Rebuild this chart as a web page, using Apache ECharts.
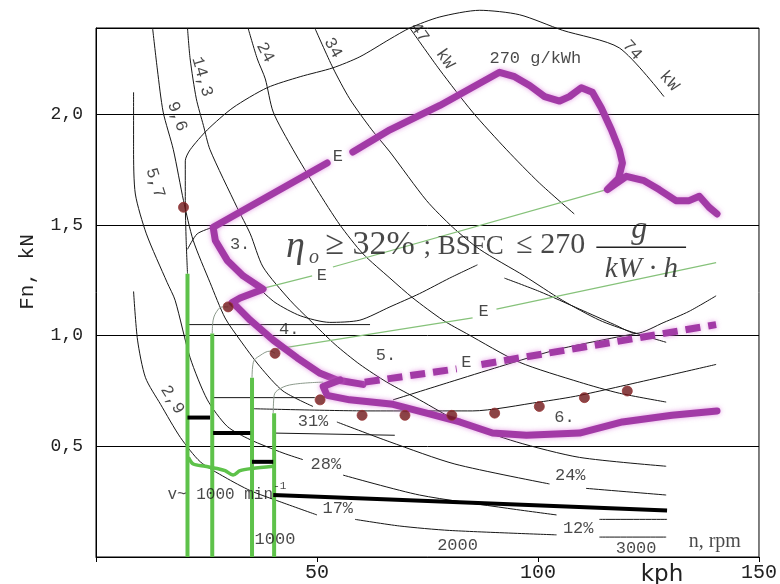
<!DOCTYPE html>
<html>
<head>
<meta charset="utf-8">
<title>Fn - kph</title>
<script src="https://cdn.jsdelivr.net/npm/echarts/dist/echarts.min.js"></script>
<style>
html, body { margin: 0; padding: 0; background: #fff; }
#chart { width: 780px; height: 584px; }
</style>
</head>
<body>
<div id="chart"></div>
<script>
// curves are [speed kph, force kN] pairs, split into segments where a label breaks them
const kw2_9 = [
  [[8.5,1.20],[9.4,0.98],[11.2,0.81],[14.6,0.69],[19.1,0.54],[23.6,0.43],[29.2,0.36],[34.9,0.30],[41.6,0.25],[50.0,0.19]],
  [[58.6,0.17],[68.7,0.14],[80.0,0.12],[104.2,0.10]],
  [[113.9,0.09],[129.0,0.09]]
];
const kw5_7 = [
  [[8.5,2.10],[8.5,1.84],[8.9,1.64],[11.4,1.46],[16.1,1.24],[17.9,1.16],[21.3,0.90],[25.2,0.71],[29.7,0.59],[34.9,0.53],[42.3,0.47],[46.8,0.44]],
  [[55.9,0.37],[73.2,0.28],[93.1,0.22],[104.2,0.19]],
  [[113.9,0.17],[129.2,0.17]]
];
const kw9_6 = [
  [[12.8,2.39],[13.9,2.20],[15.2,2.01],[17.5,1.84],[19.8,1.61],[22.0,1.43],[25.8,1.24],[29.2,1.08],[32.6,0.98],[37.1,0.86],[42.3,0.75],[49.1,0.68]],
  [[54.5,0.61],[66.5,0.52],[81.2,0.42],[102.6,0.33]],
  [[110.9,0.31],[129.0,0.28]]
];
const kw14_3 = [[[20.7,2.39],[21.3,2.25],[22.7,2.07],[24.3,1.95],[25.8,1.84],[31.9,1.58],[34.9,1.46],[37.8,1.31],[43.9,1.16],[48.4,1.07],[54.1,0.96],[59.7,0.87],[65.8,0.79],[73.2,0.71],[82.3,0.61],[95.1,0.52],[109.4,0.45],[129.0,0.41]]];
const kw24 = [[[34.4,2.39],[36.5,2.25],[38.3,2.16],[40.1,2.01],[44.6,1.84],[50.0,1.66],[55.2,1.50],[60.4,1.37],[66.5,1.26],[71.7,1.17],[78.5,1.07],[83.8,1.01],[95.8,0.88],[109.4,0.79],[118.4,0.74],[129.0,0.70]]];
const kw34 = [[[49.5,2.39],[53.6,2.21],[57.4,2.07],[62.4,1.93],[66.5,1.83],[74.8,1.61],[80.7,1.49],[86.8,1.39],[96.9,1.27],[105.5,1.16],[113.9,1.07],[120.7,1.02],[129.0,0.97]]];
const kw47 = [[[71.0,2.39],[77.8,2.20],[85.2,2.01],[92.9,1.84],[100.3,1.69],[108.2,1.55]]];
const fullLoad1 = [[[20.7,1.28],[20.4,1.43],[20.2,1.61],[20.2,1.79],[21.3,1.84],[25.2,1.93],[31.0,2.03],[38.7,2.12],[46.2,2.17],[53.6,2.21],[59.7,2.26],[66.5,2.34],[71.0,2.39],[77.8,2.44],[86.8,2.47],[95.8,2.45],[105.5,2.38],[118.4,2.30],[128.5,2.08]]];
const fullLoad2 = [[[20.7,1.39],[22.9,1.46],[26.5,1.49]]];
const fullLoad3 = [[[37.1,1.21],[40.5,1.15],[46.2,1.09],[52.9,1.06],[59.7,1.07],[66.5,1.13],[73.2,1.19],[80.0,1.26],[86.3,1.32]]];
const fullLoad4 = [[[92.4,1.26],[100.3,1.20],[109.4,1.12],[117.3,1.05],[122.2,1.01],[128.5,1.06],[134.2,1.11],[140.3,1.18]]];
const fullLoad5 = [[[67.2,0.71],[80.0,0.79],[91.3,0.86],[104.9,0.94],[122.2,1.01]]];
const pointLine = [[[35.3,0.67],[62.0,0.66],[85.2,0.66],[100.3,0.70],[109.4,0.73],[140.3,0.87]]];
const levelLines = [
  [[20.7,1.05],[62.0,1.05]],
  [[26.5,0.72],[49.5,0.72]],
  [[40.1,0.56],[67.6,0.55]]
];
const shiftSteps = [
  [[20.7,0.63],[25.8,0.63]],
  [[26.5,0.56],[34.9,0.56]],
  [[35.3,0.43],[40.1,0.43]],
  [[40.1,0.28],[66.5,0.26],[129.2,0.21]]
];
const gearX = [20.7, 26.3, 35.3, 40.3];
const gearTop = [1.28, 1.01, 0.81, 0.65];
const gearTops = [
  [[26.3,1.01],[26.5,1.07],[27.7,1.12],[28.8,1.13],[29.9,1.13]],
  [[35.3,0.81],[35.6,0.88],[37.1,0.91],[39.4,0.93],[40.5,0.92]],
  [[40.1,0.65],[40.3,0.73],[41.6,0.76],[44.6,0.78],[51.4,0.79]]
];
const greenWave = [[20.9,0.45],[22.0,0.42],[24.7,0.41],[27.4,0.40],[29.2,0.39],[31.0,0.37],[32.6,0.39],[35.3,0.40],[40.1,0.41]];
const ecoLines = [
  [[37.1,1.21],[48.9,1.27]],
  [[53.6,1.31],[115.5,1.66]],
  [[41.0,0.94],[85.2,1.08]],
  [[90.6,1.12],[140.3,1.33]]
];
const purpleTop = [[58.1,1.83],[66.5,1.93],[77.8,2.04],[91.3,2.19],[94.7,2.17],[98.1,2.13],[101.5,2.08],[104.9,2.06],[107.1,2.08],[109.8,2.12],[112.3,2.10],[114.3,2.03],[116.6,1.93],[118.4,1.84],[119.1,1.78],[118.2,1.71],[115.7,1.66],[120.0,1.72],[124.0,1.70],[127.4,1.66],[131.2,1.61],[134.2,1.61],[136.5,1.63],[138.7,1.58],[140.5,1.55]];
const purpleMid = [[52.3,1.78],[26.5,1.49],[27.0,1.43],[29.7,1.34],[33.3,1.27],[37.8,1.21],[32.6,1.17],[30.8,1.15],[31.9,1.13],[34.9,1.07],[40.1,0.98],[45.5,0.90],[50.7,0.83],[54.5,0.80],[60.4,0.78]];
const purpleLow = [[55.2,0.80],[51.4,0.77],[52.3,0.73],[57.4,0.71],[67.2,0.69],[74.8,0.65],[82.3,0.61],[89.7,0.56],[97.4,0.55],[109.4,0.56],[119.1,0.61],[130.3,0.64],[140.5,0.66]];
const purpleDash = [
  [[60.8,0.79],[81.6,0.85]],
  [[87.2,0.87],[140.3,1.05]]
];
const points = [[19.8,1.58],[29.9,1.13],[40.5,0.92],[50.7,0.71],[60.2,0.64],[69.9,0.64],[80.5,0.64],[90.2,0.65],[100.3,0.68],[110.5,0.72],[120.2,0.75]];

const yTicks = [0.5, 1.0, 1.5, 2.0];

const notes = [
  ['270 g/kWh', 99.4, 2.25], ['E', 54.7, 1.81], ['E', 51.1, 1.27], ['E', 87.7, 1.11], ['E', 83.8, 0.88],
  ['3.', 32.6, 1.41], ['4.', 43.7, 1.03], ['5.', 65.6, 0.91], ['6.', 106.0, 0.63],
  ['31%', 49.1, 0.61], ['28%', 52.0, 0.42], ['24%', 107.3, 0.37], ['17%', 54.7, 0.22], ['12%', 109.1, 0.13],
  ['1000', 40.5, 0.08], ['2000', 81.8, 0.05], ['3000', 122.2, 0.04]
];
const powerNotes = [
  ['5,7', 13.4, 1.69, -72], ['9,6', 18.4, 1.99, -70], ['14,3', 24.0, 2.17, -74], ['24', 38.3, 2.28, -62],
  ['34', 53.6, 2.30, -60], ['47', 73.2, 2.37, -55], ['kW', 79.0, 2.25, -55], ['74', 121.3, 2.29, -48],
  ['kW', 129.7, 2.15, -48], ['2,9', 17.3, 0.71, -58]
];

const chart = echarts.init(document.getElementById('chart'));
const series = [];

function addLine(segments, color, width, z, extra) {
  segments.forEach(function (seg) {
    series.push(Object.assign({
      type: 'line', data: seg, symbol: 'none', silent: true, clip: false, z: z,
      lineStyle: { color: color, width: width }
    }, extra || {}));
  });
}

// thin black field lines
[kw2_9, kw5_7, kw9_6, kw14_3, kw24, kw34, kw47, fullLoad1, fullLoad2, fullLoad3, fullLoad4, fullLoad5, pointLine]
  .forEach(function (c) { addLine(c, '#161616', 1, 2, { smooth: 0.25 }); });
addLine(levelLines, '#161616', 1, 2);
addLine(gearTops, '#8c9a8c', 1, 2, { smooth: 0.4 });
addLine(ecoLines, '#86c27a', 1.2, 2);

// green gear lines
addLine(gearX.map(function (x, i) { return [[x, gearTop[i]], [x, 0]]; }), '#5ec24a', 4, 3);
addLine([greenWave], '#5ec24a', 3.5, 3, { smooth: 0.3 });

// thick black steps
addLine(shiftSteps, '#000', 4, 4);

// purple operating line
const purpleStyle = { shadowBlur: 5, shadowColor: 'rgba(215,110,215,0.7)' };
[purpleTop, purpleMid, purpleLow].forEach(function (seg) {
  series.push({
    type: 'line', data: seg, symbol: 'none', silent: true, clip: false, z: 5,
    lineStyle: Object.assign({ color: '#a23aa6', width: 7, cap: 'round', join: 'round' }, purpleStyle)
  });
});
purpleDash.forEach(function (seg) {
  series.push({
    type: 'line', data: seg, symbol: 'none', silent: true, z: 5,
    lineStyle: Object.assign({ color: '#a23aa6', width: 7, type: [15, 8] }, purpleStyle)
  });
});

// measured points
series.push({
  type: 'scatter', data: points, symbolSize: 10, silent: true, z: 6,
  itemStyle: { color: '#6e1518', borderColor: '#9a3a3a', borderWidth: 1 }
});

// text on the chart
function textSeries(list, style) {
  return {
    type: 'scatter', symbolSize: 0, silent: true, z: 8, clip: false,
    data: list.map(function (n) {
      return { value: [n[1], n[2]], label: { formatter: n[0], rotate: n[3] || 0 } };
    }),
    label: Object.assign({ show: true, position: 'inside', align: 'center', verticalAlign: 'middle',
      color: '#1a1a1a', fontFamily: 'Liberation Mono', fontSize: 17 }, style || {})
  };
}
series.push(textSeries(notes));
series.push(textSeries(powerNotes, { fontSize: 17 }));
series.push(textSeries([['v~ 1000 min', 28.1, 0.28]], { fontSize: 16 }));
series.push(textSeries([['-1', 41.6, 0.32]], { fontSize: 11 }));
series.push(textSeries([['n, rpm', 140.0, 0.07]], { fontFamily: 'Liberation Serif', fontSize: 20 }));

// BSFC formula
const serif = 'Liberation Serif';
series.push(textSeries([['η', 43.0, 1.40]], { fontFamily: serif, fontStyle: 'italic', fontSize: 38, align: 'left' }));
series.push(textSeries([['o', 48.2, 1.35]], { fontFamily: serif, fontStyle: 'italic', fontSize: 20, align: 'left' }));
series.push(textSeries([['≥ 32%', 51.9, 1.41]], { fontFamily: serif, fontSize: 34, align: 'left' }));
series.push(textSeries([['; BSFC', 74.1, 1.40]], { fontFamily: serif, fontSize: 27, align: 'left' }));
series.push(textSeries([['≤ 270', 95.1, 1.41]], { fontFamily: serif, fontSize: 30, align: 'left' }));
series.push(textSeries([['g', 122.9, 1.48]], { fontFamily: serif, fontStyle: 'italic', fontSize: 32 }));
series.push(textSeries([['kW · h', 123.4, 1.30]], { fontFamily: serif, fontStyle: 'italic', fontSize: 29 }));
addLine([[[113.2, 1.40], [133.5, 1.40]]], '#222', 1.5, 7);

chart.setOption({
  animation: false,
  backgroundColor: '#fff',
  grid: { left: 96, right: 20, top: 28, bottom: 27, show: true, borderColor: '#000', borderWidth: 1 },
  xAxis: {
    type: 'value', min: 0, max: 150, interval: 50,
    axisLine: { lineStyle: { color: '#000' } },
    axisTick: { show: true, length: 5, lineStyle: { color: '#000' } },
    splitLine: { show: false },
    axisLabel: {
      formatter: function (v) { return v === 0 ? '' : String(v); },
      fontFamily: 'Liberation Mono', fontSize: 20, color: '#222', margin: 6
    }
  },
  yAxis: {
    type: 'value', min: 0, max: 2.39, interval: 0.5,
    axisLine: { show: true, lineStyle: { color: '#000' } },
    axisTick: { show: false },
    splitLine: { show: true, lineStyle: { color: '#000', width: 1 } },
    axisLabel: {
      formatter: function (v) {
        const hit = yTicks.find(function (t) { return Math.abs(t - v) < 1e-6; });
        return hit === undefined ? '' : hit.toFixed(1).replace('.', ',');
      },
      fontFamily: 'Liberation Mono', fontSize: 18, color: '#222', margin: 13
    }
  },
  graphic: [
    { type: 'text', x: 27, y: 272, rotation: Math.PI / 2,
      style: { text: 'Fn, kN', align: 'center', verticalAlign: 'middle', fill: '#222', font: '21px "Liberation Mono"' } },
    { type: 'text', x: 662, y: 575,
      style: { text: 'kph', align: 'center', verticalAlign: 'middle', fill: '#222', font: '23px "DejaVu Sans"' } }
  ],
  series: series
});
</script>
</body>
</html>
